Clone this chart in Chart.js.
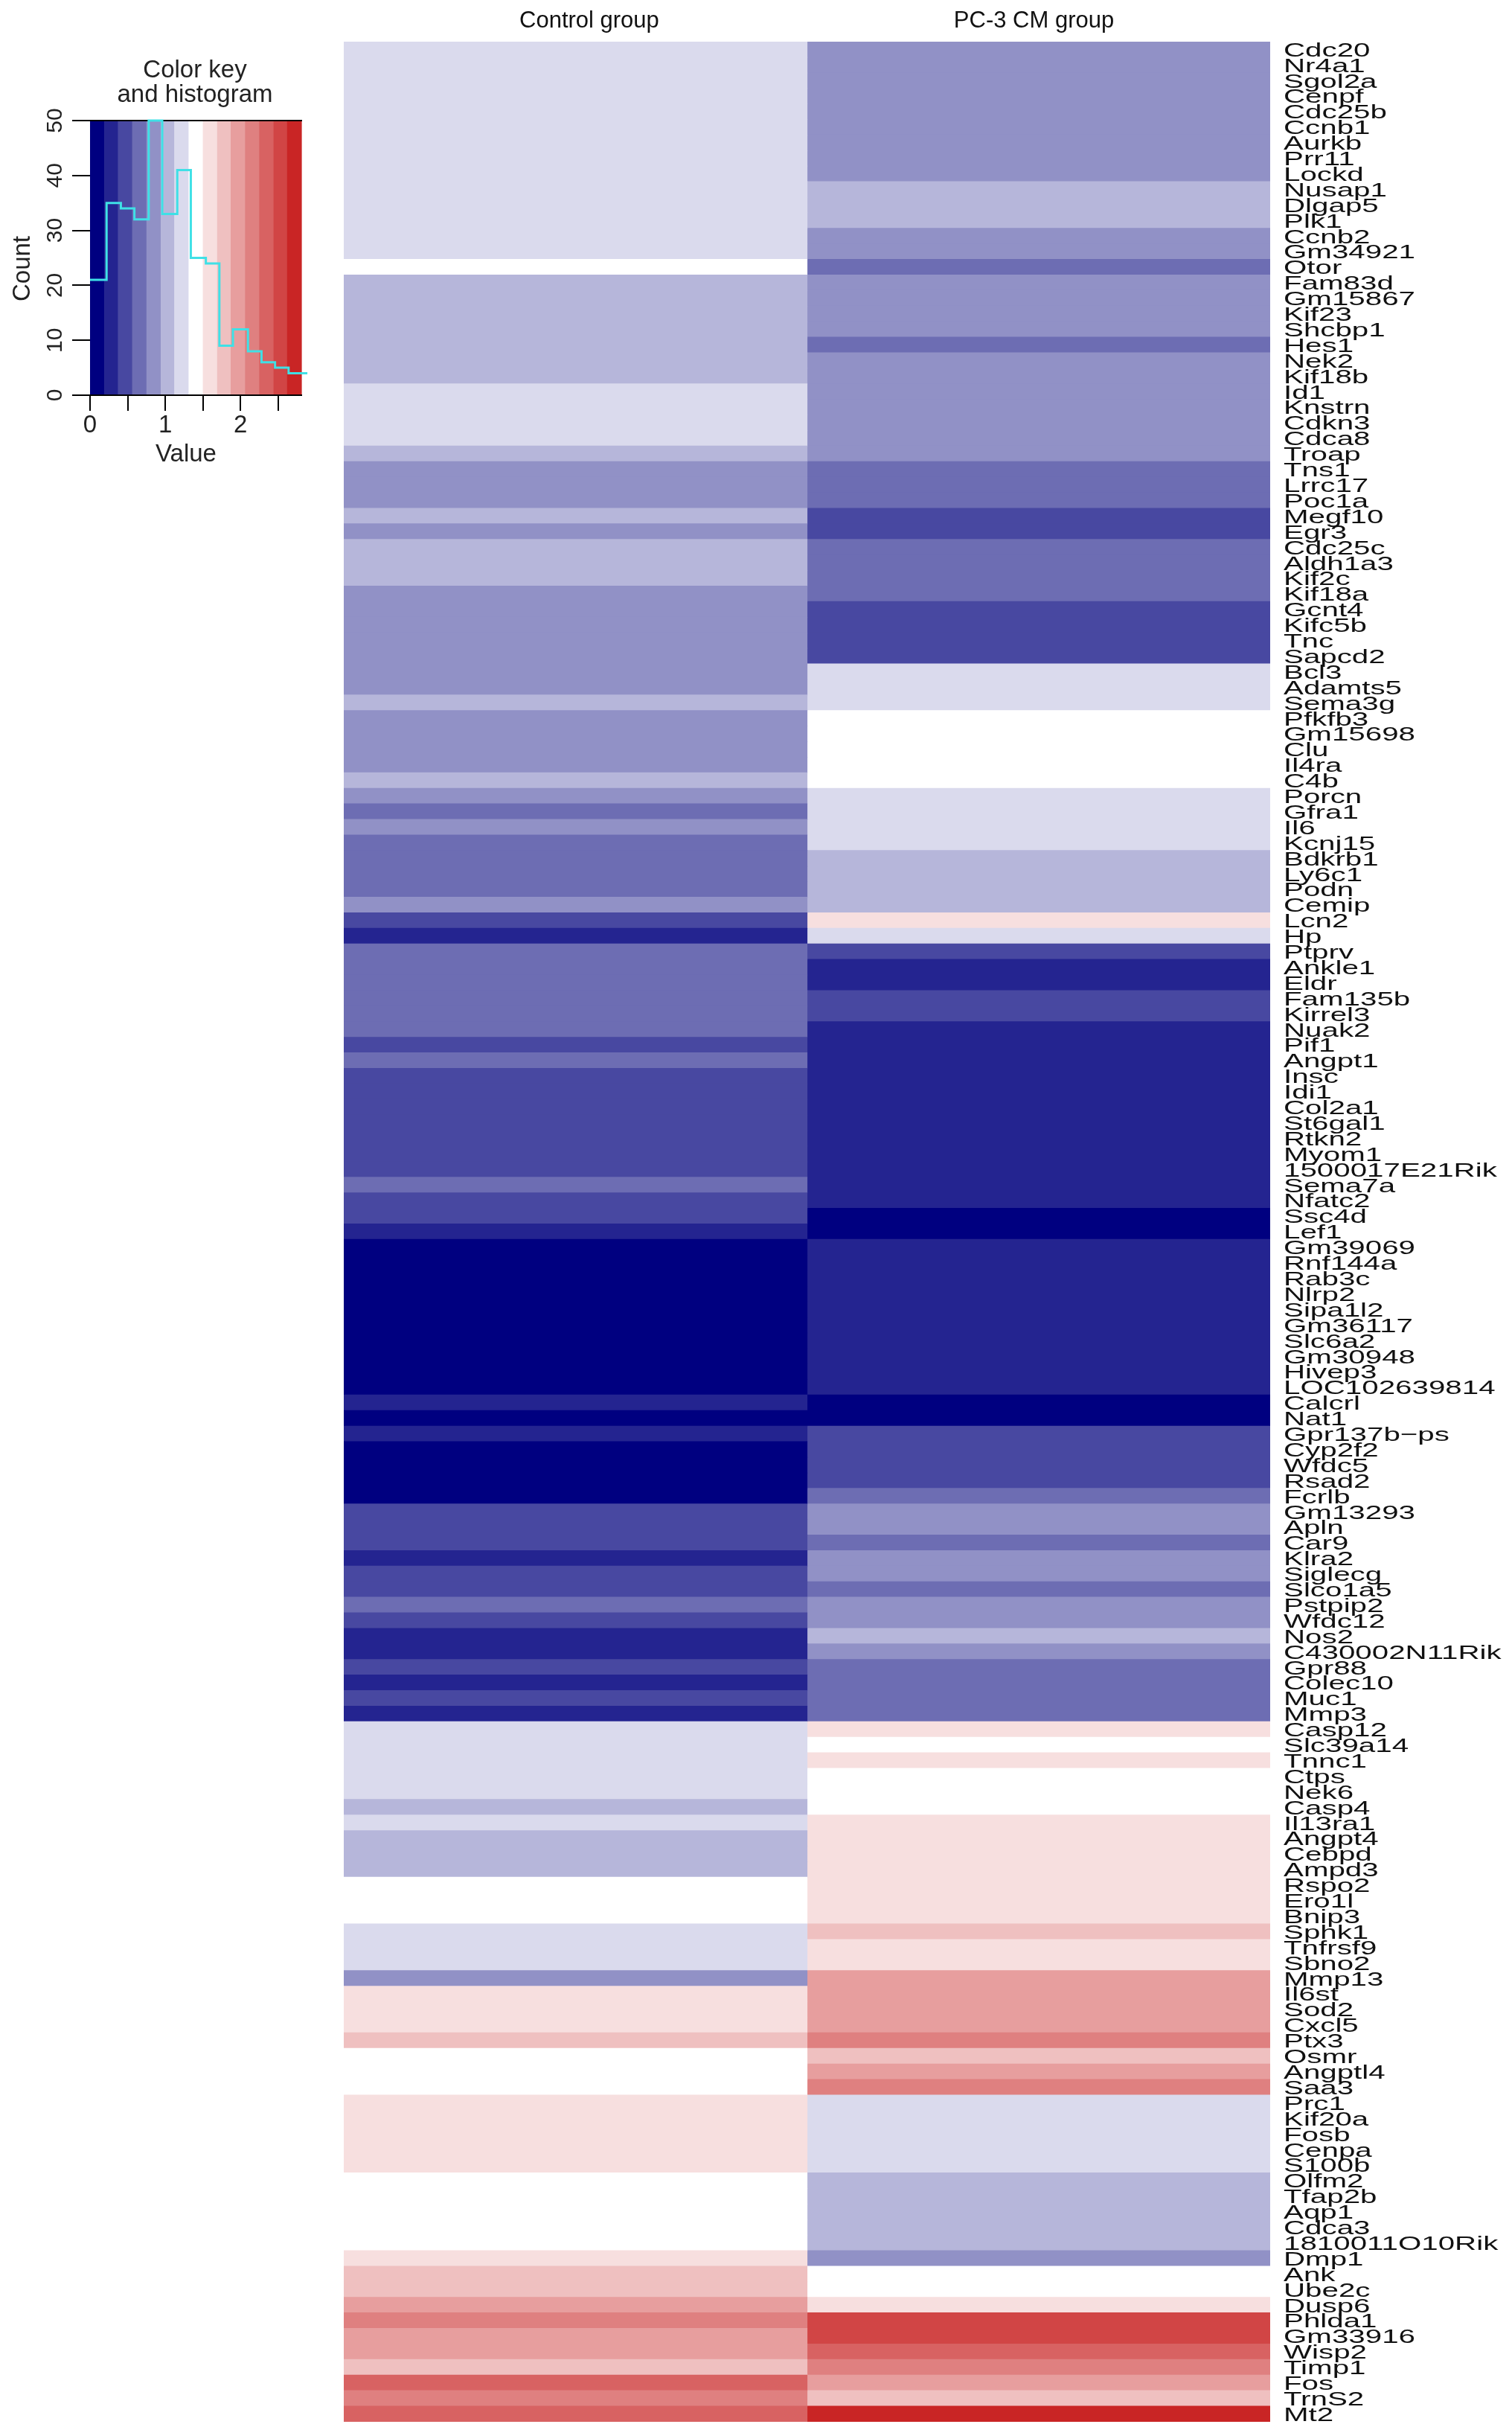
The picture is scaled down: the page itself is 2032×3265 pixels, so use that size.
<!DOCTYPE html>
<html lang="en">
  <head>
    <meta charset="utf-8" />
    <title>Heatmap - Control vs PC-3 CM group</title>
    <style>
      body { margin: 0; background: #fff; }
      .wrap { position: relative; width: 2032px; height: 3265px; }
      canvas { position: absolute; left: 0; top: 0; }
    </style>
  </head>
  <body>
    <div class="wrap">
      <canvas id="heatChart" width="2032" height="3265"></canvas>
      <canvas id="keyChart" width="460" height="660"></canvas>
    </div>
    <script src="https://cdn.jsdelivr.net/npm/chart.js"></script>
    <script>
      // row labels, top to bottom
      const genes = [
        "Cdc20", "Nr4a1", "Sgol2a", "Cenpf", "Cdc25b", "Ccnb1", "Aurkb", "Prr11", "Lockd", "Nusap1",
        "Dlgap5", "Plk1", "Ccnb2", "Gm34921", "Otor", "Fam83d", "Gm15867", "Kif23", "Shcbp1", "Hes1",
        "Nek2", "Kif18b", "Id1", "Knstrn", "Cdkn3", "Cdca8", "Troap", "Tns1", "Lrrc17", "Poc1a",
        "Megf10", "Egr3", "Cdc25c", "Aldh1a3", "Kif2c", "Kif18a", "Gcnt4", "Kifc5b", "Tnc", "Sapcd2",
        "Bcl3", "Adamts5", "Sema3g", "Pfkfb3", "Gm15698", "Clu", "Il4ra", "C4b", "Porcn", "Gfra1",
        "Il6", "Kcnj15", "Bdkrb1", "Ly6c1", "Podn", "Cemip", "Lcn2", "Hp", "Ptprv", "Ankle1",
        "Eldr", "Fam135b", "Kirrel3", "Nuak2", "Pif1", "Angpt1", "Insc", "Idi1", "Col2a1", "St6gal1",
        "Rtkn2", "Myom1", "1500017E21Rik", "Sema7a", "Nfatc2", "Ssc4d", "Lef1", "Gm39069", "Rnf144a", "Rab3c",
        "Nlrp2", "Sipa1l2", "Gm36117", "Slc6a2", "Gm30948", "Hivep3", "LOC102639814", "Calcrl", "Nat1", "Gpr137b\u2212ps",
        "Cyp2f2", "Wfdc5", "Rsad2", "Fcrlb", "Gm13293", "Apln", "Car9", "Klra2", "Siglecg", "Slco1a5",
        "Pstpip2", "Wfdc12", "Nos2", "C430002N11Rik", "Gpr88", "Colec10", "Muc1", "Mmp3", "Casp12", "Slc39a14",
        "Tnnc1", "Ctps", "Nek6", "Casp4", "Il13ra1", "Angpt4", "Cebpd", "Ampd3", "Rspo2", "Ero1l",
        "Bnip3", "Sphk1", "Tnfrsf9", "Sbno2", "Mmp13", "Il6st", "Sod2", "Cxcl5", "Ptx3", "Osmr",
        "Angptl4", "Saa3", "Prc1", "Kif20a", "Fosb", "Cenpa", "S100b", "Olfm2", "Tfap2b", "Aqp1",
        "Cdca3", "1810011O10Rik", "Dmp1", "Ank", "Ube2c", "Dusp6", "Phlda1", "Gm33916", "Wisp2", "Timp1",
        "Fos", "TrnS2", "Mt2"
      ];
      const groups = ["Control group", "PC-3 CM group"];

      const control = [
        1.2, 1.2, 1.2, 1.2, 1.2, 1.2, 1.2, 1.2, 1.2, 1.2,
        1.2, 1.2, 1.2, 1.2, 1.4, 1.0, 1.0, 1.0, 1.0, 1.0,
        1.0, 1.0, 1.2, 1.2, 1.2, 1.2, 1.0, 0.8, 0.8, 0.8,
        1.0, 0.8, 1.0, 1.0, 1.0, 0.8, 0.8, 0.8, 0.8, 0.8,
        0.8, 0.8, 1.0, 0.8, 0.8, 0.8, 0.8, 1.0, 0.8, 0.7,
        0.8, 0.7, 0.7, 0.7, 0.7, 0.8, 0.5, 0.3, 0.7, 0.7,
        0.7, 0.7, 0.7, 0.7, 0.5, 0.7, 0.5, 0.5, 0.5, 0.5,
        0.5, 0.5, 0.5, 0.7, 0.5, 0.5, 0.3, 0.1, 0.1, 0.1,
        0.1, 0.1, 0.1, 0.1, 0.1, 0.1, 0.1, 0.3, 0.1, 0.3,
        0.1, 0.1, 0.1, 0.1, 0.5, 0.5, 0.5, 0.3, 0.5, 0.5,
        0.7, 0.5, 0.3, 0.3, 0.5, 0.3, 0.5, 0.3, 1.2, 1.2,
        1.2, 1.2, 1.2, 1.0, 1.2, 1.0, 1.0, 1.0, 1.4, 1.4,
        1.4, 1.2, 1.2, 1.2, 0.8, 1.6, 1.6, 1.6, 1.8, 1.4,
        1.4, 1.4, 1.6, 1.6, 1.6, 1.6, 1.6, 1.4, 1.4, 1.4,
        1.4, 1.4, 1.6, 1.8, 1.8, 2.0, 2.1, 2.0, 2.0, 1.8,
        2.3, 2.1, 2.3
      ];
      const pc3 = [
        0.8, 0.8, 0.8, 0.8, 0.8, 0.8, 0.8, 0.8, 0.8, 1.0,
        1.0, 1.0, 0.8, 0.8, 0.7, 0.8, 0.8, 0.8, 0.8, 0.7,
        0.8, 0.8, 0.8, 0.8, 0.8, 0.8, 0.8, 0.7, 0.7, 0.7,
        0.5, 0.5, 0.7, 0.7, 0.7, 0.7, 0.5, 0.5, 0.5, 0.5,
        1.2, 1.2, 1.2, 1.4, 1.4, 1.4, 1.4, 1.4, 1.2, 1.2,
        1.2, 1.2, 1.0, 1.0, 1.0, 1.0, 1.6, 1.2, 0.5, 0.3,
        0.3, 0.5, 0.5, 0.3, 0.3, 0.3, 0.3, 0.3, 0.3, 0.3,
        0.3, 0.3, 0.3, 0.3, 0.3, 0.1, 0.1, 0.3, 0.3, 0.3,
        0.3, 0.3, 0.3, 0.3, 0.3, 0.3, 0.3, 0.1, 0.1, 0.5,
        0.5, 0.5, 0.5, 0.7, 0.8, 0.8, 0.7, 0.8, 0.8, 0.7,
        0.8, 0.8, 1.0, 0.8, 0.7, 0.7, 0.7, 0.7, 1.6, 1.4,
        1.6, 1.4, 1.4, 1.4, 1.6, 1.6, 1.6, 1.6, 1.6, 1.6,
        1.6, 1.8, 1.6, 1.6, 2.0, 2.0, 2.0, 2.0, 2.1, 1.8,
        2.0, 2.1, 1.2, 1.2, 1.2, 1.2, 1.2, 1.0, 1.0, 1.0,
        1.0, 1.0, 0.8, 1.4, 1.4, 1.6, 2.5, 2.5, 2.3, 2.1,
        2.0, 1.8, 2.7
      ];

      // colour key: break points and one colour per bin
      const breaks = [0, 0.19, 0.37, 0.56, 0.75, 0.94, 1.12, 1.31, 1.5, 1.69, 1.87, 2.06, 2.25, 2.44, 2.62, 2.81];
      const palette = [
        "#000080", "#242490", "#4848a1", "#6d6db3", "#9191c6", "#b6b6da", "#dadaed", "#ffffff",
        "#f7dfdf", "#efc0c0", "#e79e9e", "#df8080", "#d86262", "#d14545", "#c92525"
      ];
      // histogram in the key
      const histEdges = [0, 0.22, 0.41, 0.59, 0.78, 0.96, 1.16, 1.34, 1.54, 1.72, 1.9, 2.1, 2.28, 2.46, 2.64, 2.89];
      const histCounts = [21, 35, 34, 32, 50, 33, 41, 25, 24, 9, 12, 8, 6, 5, 4];
      const countTicks = [0, 10, 20, 30, 40, 50];

      const FONT = '"Liberation Sans", Arial, sans-serif';

      function colorFor(v) {
        for (let i = 0; i < palette.length; i++) {
          if (v < breaks[i + 1]) return palette[i];
        }
        return palette[palette.length - 1];
      }

      // the row labels in the figure are wider than normal type, so stretch them sideways
      function stretchText(ctx, text, x, y, sx, align) {
        ctx.save();
        ctx.translate(x, y);
        ctx.scale(sx, 1);
        ctx.textAlign = align;
        ctx.textBaseline = "alphabetic";
        ctx.fillText(text, 0, 0);
        ctx.restore();
      }

      function rotatedText(ctx, text, x, y) {
        ctx.save();
        ctx.translate(x, y);
        ctx.rotate(-Math.PI / 2);
        ctx.textAlign = "center";
        ctx.textBaseline = "alphabetic";
        ctx.fillText(text, 0, 0);
        ctx.restore();
      }

      const heatLabels = {
        id: "heatLabels",
        afterDraw(chart) {
          const ctx = chart.ctx;
          const x = chart.scales.x;
          const y = chart.scales.y;
          ctx.save();
          ctx.fillStyle = "#111";
          ctx.font = "31px " + FONT;
          stretchText(ctx, groups[0], x.getPixelForValue(0.53), 37, 1, "center");
          stretchText(ctx, groups[1], x.getPixelForValue(1.49), 37, 1, "center");
          ctx.font = "26px " + FONT;
          genes.forEach((g, i) => {
            stretchText(ctx, g, chart.chartArea.right + 18, y.getPixelForValue(i) + 9.3, 1.55, "left");
          });
          ctx.restore();
        },
      };

      new Chart(document.getElementById("heatChart"), {
        type: "bar",
        data: {
          labels: genes,
          datasets: [
            {
              label: groups[0],
              data: genes.map(() => [0, 1]),
              backgroundColor: (c) => colorFor(control[c.dataIndex]),
            },
            {
              label: groups[1],
              data: genes.map(() => [1, 2]),
              backgroundColor: (c) => colorFor(pc3[c.dataIndex]),
            },
          ],
        },
        plugins: [heatLabels],
        options: {
          indexAxis: "y",
          responsive: false,
          animation: false,
          layout: { padding: { left: 462, right: 325, top: 56, bottom: 11 } },
          datasets: {
            bar: {
              grouped: false,
              barPercentage: 1,
              categoryPercentage: 1,
              borderWidth: 0,
              inflateAmount: 0.6,
            },
          },
          plugins: { legend: { display: false }, tooltip: { enabled: false } },
          scales: {
            x: { type: "linear", min: 0, max: 2, display: false },
            y: { type: "category", display: false },
          },
        },
      });

      const keyDecor = {
        id: "keyDecor",
        beforeDraw(chart) {
          const { ctx, chartArea: a } = chart;
          const x = chart.scales.x;
          ctx.save();
          palette.forEach((c, i) => {
            const x0 = x.getPixelForValue(breaks[i]);
            const x1 = x.getPixelForValue(breaks[i + 1]);
            ctx.fillStyle = c;
            ctx.fillRect(x0, a.top, x1 - x0 + 0.6, a.bottom - a.top);
          });
          ctx.restore();
        },
        afterDraw(chart) {
          const ctx = chart.ctx;
          const y = chart.scales.y;
          const x = chart.scales.x;
          ctx.save();
          ctx.fillStyle = "#222";
          ctx.font = "33px " + FONT;
          ctx.textAlign = "center";
          ctx.fillText("Color key", 262, 104);
          ctx.fillText("and histogram", 262, 137);
          ctx.font = "30px " + FONT;
          countTicks.forEach((v) => rotatedText(ctx, String(v), 83, y.getPixelForValue(v)));
          ctx.font = "33px " + FONT;
          rotatedText(ctx, "Count", 40, 361);
          ctx.textAlign = "center";
          ctx.fillText("Value", 250, 620);
          ctx.restore();
        },
      };

      const histPoints = histEdges.map((e, i) => ({
        x: e,
        y: histCounts[Math.min(i, histCounts.length - 1)],
      }));

      new Chart(document.getElementById("keyChart"), {
        type: "line",
        data: {
          datasets: [
            {
              data: histPoints,
              stepped: true,
              borderColor: "#3fe0e6",
              borderWidth: 3,
              pointRadius: 0,
              fill: false,
              clip: false,
            },
          ],
        },
        plugins: [keyDecor],
        options: {
          responsive: false,
          animation: false,
          layout: { padding: { left: 97, right: 55, top: 162, bottom: 69 } },
          plugins: { legend: { display: false }, tooltip: { enabled: false } },
          scales: {
            x: {
              type: "linear",
              min: 0,
              max: 2.81,
              afterFit: (s) => { s.height = 60; },
              ticks: {
                stepSize: 0.5,
                includeBounds: false,
                autoSkip: false,
                maxRotation: 0,
                color: "#222",
                padding: 0,
                font: { family: FONT, size: 33 },
                callback: (v) => (Number.isInteger(v) ? String(v) : ""),
              },
              grid: { drawOnChartArea: false, tickLength: 21, color: "#000", lineWidth: 2 },
              border: { color: "#000", width: 2 },
            },
            x2: {
              type: "linear",
              position: "top",
              min: 0,
              max: 2.81,
              afterFit: (s) => { s.height = 0; },
              ticks: { display: false },
              grid: { display: false },
              border: { color: "#000", width: 2 },
            },
            y: {
              min: 0,
              max: 50,
              afterFit: (s) => { s.width = 24; },
              ticks: { stepSize: 10, callback: () => "", padding: 0 },
              grid: { drawOnChartArea: false, tickLength: 24, color: "#000", lineWidth: 2 },
              border: { display: false },
            },
          },
        },
      });
    </script>
  </body>
</html>
